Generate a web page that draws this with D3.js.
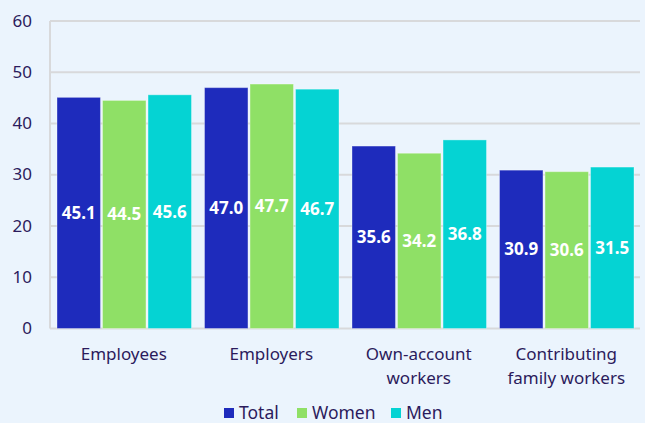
<!DOCTYPE html>
<html>
<head>
<meta charset="utf-8">
<script src="https://cdn.jsdelivr.net/npm/d3@7"></script>
<style>
  html, body { margin: 0; padding: 0; background: #EBF4FD; }
  svg { display: block; font-family: "Noto Sans", "Open Sans", sans-serif; }
  .tick-label { fill: #2B1B5C; font-size: 17px; }
  .cat-label { fill: #2B1B5C; font-size: 17px; }
  .val-label { fill: #ffffff; font-size: 17px; font-weight: bold; }
  .legend-label { fill: #2B1B5C; font-size: 17.5px; }
</style>
</head>
<body>
<div id="chart"></div>
<script>
// Chart data
const categories = ["Employees", "Employers", "Own-account\nworkers", "Contributing\nfamily workers"];
const seriesNames = ["Total", "Women", "Men"];
const totalValues = [45.1, 47.0, 35.6, 30.9];
const womenValues = [44.5, 47.7, 34.2, 30.6];
const menValues = [45.6, 46.7, 36.8, 31.5];
const yTicks = [0, 10, 20, 30, 40, 50, 60];

const colors = ["#1E2BBC", "#8FE066", "#05D3D3"];

(function () {
  const width = 645, height = 423;
  const margin = { top: 21, right: 5, bottom: 95, left: 50 };

  const svg = d3.select("#chart").append("svg")
    .attr("width", width)
    .attr("height", height);

  const x0 = d3.scaleBand()
    .domain(categories)
    .range([margin.left, width - margin.right])
    .paddingInner(0)
    .paddingOuter(0);

  const x1 = d3.scaleBand()
    .domain(seriesNames)
    .range([7, x0.bandwidth() - 6])
    .paddingInner(0.045);

  const y = d3.scaleLinear()
    .domain([0, 60])
    .range([328.5, margin.top]);

  // grid lines
  svg.append("g")
    .selectAll("line")
    .data(yTicks)
    .join("line")
    .attr("x1", margin.left)
    .attr("x2", 640)
    .attr("y1", d => y(d))
    .attr("y2", d => y(d))
    .attr("stroke", "#D8D9DB")
    .attr("stroke-width", 2);

  // y axis line
  svg.append("line")
    .attr("x1", margin.left).attr("x2", margin.left)
    .attr("y1", y(60)).attr("y2", y(0))
    .attr("stroke", "#D8D9DB")
    .attr("stroke-width", 2);

  // y tick labels
  svg.append("g")
    .selectAll("text")
    .data(yTicks)
    .join("text")
    .attr("class", "tick-label")
    .attr("x", 32)
    .attr("y", d => y(d))
    .attr("dy", "0.33em")
    .attr("text-anchor", "end")
    .text(d => d);

  const rows = categories.map((c, i) => ({
    cat: c,
    vals: [totalValues[i], womenValues[i], menValues[i]]
  }));

  const groups = svg.append("g")
    .selectAll("g")
    .data(rows)
    .join("g")
    .attr("transform", d => `translate(${x0(d.cat)},0)`);

  const bars = groups.selectAll("g.bar")
    .data(d => d.vals.map((v, j) => ({ name: seriesNames[j], value: v, j })))
    .join("g")
    .attr("class", "bar");

  bars.append("rect")
    .attr("x", d => x1(d.name))
    .attr("width", x1.bandwidth())
    .attr("y", d => y(d.value))
    .attr("height", d => y(0) - y(d.value))
    .attr("fill", d => colors[d.j])
    .attr("stroke", "rgba(255,255,255,0.35)")
    .attr("stroke-width", 1);

  bars.append("text")
    .attr("class", "val-label")
    .attr("x", d => x1(d.name) + x1.bandwidth() / 2)
    .attr("y", d => (y(d.value) + y(0)) / 2)
    .attr("dy", "0.35em")
    .attr("text-anchor", "middle")
    .text(d => d3.format(".1f")(d.value));

  // category labels
  const catLabels = svg.append("g")
    .selectAll("text")
    .data(categories)
    .join("text")
    .attr("class", "cat-label")
    .attr("text-anchor", "middle")
    .attr("x", d => x0(d) + x0.bandwidth() / 2)
    .attr("y", 354);
  catLabels.selectAll("tspan")
    .data(d => d.split("\n"))
    .join("tspan")
    .attr("x", function () { return d3.select(this.parentNode).attr("x"); })
    .attr("dy", (d, i) => i === 0 ? "0.35em" : "24")
    .text(d => d);

  // legend
  const legendItems = [
    { name: "Total", x: 224 },
    { name: "Women", x: 297 },
    { name: "Men", x: 391 }
  ];
  const legend = svg.append("g")
    .selectAll("g")
    .data(legendItems)
    .join("g")
    .attr("transform", d => `translate(${d.x},413)`);
  legend.append("rect")
    .attr("x", 0).attr("y", -5)
    .attr("width", 10).attr("height", 10)
    .attr("fill", (d, i) => colors[i]);
  legend.append("text")
    .attr("class", "legend-label")
    .attr("x", 15)
    .attr("dy", "0.35em")
    .text(d => d.name);
})();
</script>
</body>
</html>
